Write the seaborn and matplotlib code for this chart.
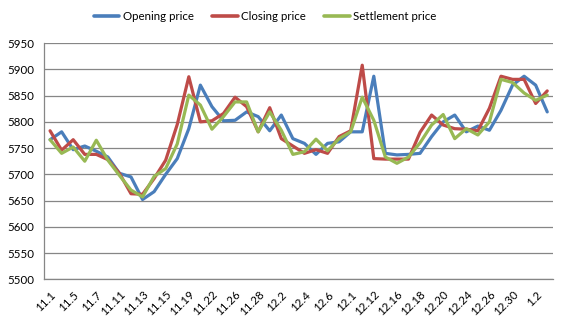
import matplotlib
matplotlib.use("Agg")
import matplotlib.pyplot as plt
import numpy as np
import pandas as pd
import seaborn as sns

# Trading days, November to early January
dates = ["11.1", "11.4", "11.5", "11.6", "11.7", "11.8", "11.11", "11.12", "11.13", "11.14",
         "11.15", "11.18", "11.19", "11.21", "11.22", "11.25", "11.26", "11.27", "11.28", "11.29",
         "12.2", "12.3", "12.4", "12.5", "12.6", "12.9", "12.1", "12.11", "12.12", "12.13",
         "12.16", "12.17", "12.18", "12.19", "12.20", "12.23", "12.24", "12.25", "12.26", "12.27",
         "12.30", "12.31", "1.2", "1.3"]

opening = [5766, 5781, 5747, 5754, 5744, 5733, 5702, 5695, 5652, 5667,
           5700, 5730, 5787, 5870, 5829, 5802, 5803, 5819, 5810, 5783,
           5813, 5768, 5759, 5738, 5759, 5762, 5781, 5781, 5887, 5740,
           5737, 5738, 5740, 5772, 5800, 5813, 5781, 5792, 5784, 5822,
           5870, 5887, 5870, 5819]

closing = [5783, 5746, 5766, 5738, 5738, 5728, 5702, 5663, 5662, 5692,
           5727, 5795, 5886, 5800, 5802, 5816, 5847, 5829, 5781, 5827,
           5768, 5754, 5740, 5747, 5740, 5772, 5783, 5908, 5730, 5729,
           5729, 5729, 5780, 5813, 5794, 5787, 5786, 5783, 5826, 5887,
           5881, 5881, 5835, 5859]

settlement = [5766, 5740, 5752, 5725, 5765, 5727, 5698, 5670, 5657, 5696,
              5711, 5758, 5851, 5832, 5786, 5810, 5838, 5838, 5781, 5819,
              5784, 5738, 5743, 5767, 5745, 5768, 5781, 5847, 5803, 5733,
              5721, 5733, 5760, 5794, 5814, 5768, 5787, 5775, 5800, 5881,
              5875, 5855, 5841, 5851]

series_names = ["Opening price", "Closing price", "Settlement price"]
colors = ["#4A7EBB", "#BE4B48", "#98B954"]
y_ticks = list(range(5500, 5951, 50))

n = len(dates)
idx = np.arange(n)
df = pd.DataFrame({
    "idx": np.tile(idx, 3),
    "price": opening + closing + settlement,
    "series": np.repeat(series_names, n),
})

sns.set_style("white")
plt.rcParams["font.family"] = ["Lato", "DejaVu Sans"]
plt.rcParams["text.color"] = "black"
plt.rcParams["xtick.labelcolor"] = "black"
plt.rcParams["ytick.labelcolor"] = "black"

fig = plt.figure(figsize=(5.62, 3.27), dpi=100)
ax = fig.add_axes([0.0788, 0.146, 0.9052, 0.722])

sns.lineplot(data=df, x="idx", y="price", hue="series", hue_order=series_names,
             palette=colors, linewidth=2.3, ax=ax, legend=True)

grid_col = "#868686"
ax.set_xlim(-0.5, n - 0.5)
ax.set_ylim(5500, 5950)
ax.set_yticks(y_ticks)
ax.set_yticklabels([str(v) for v in y_ticks], fontsize=8.3)
ax.yaxis.grid(True, color=grid_col, linewidth=0.9)
ax.set_axisbelow(True)

# Category labels on every second day, tick marks between categories
ax.set_xticks(idx[::2])
ax.set_xticklabels(dates[::2], rotation=45, ha="right", rotation_mode="anchor", fontsize=8.3)
ax.set_xticks(np.arange(n + 1) - 0.5, minor=True)
ax.tick_params(axis="x", which="major", length=0, pad=7)
ax.tick_params(axis="x", which="minor", length=4, color=grid_col, width=0.9, direction="out")
ax.tick_params(axis="y", length=4, color=grid_col, width=0.9, direction="out", pad=3)
ax.set_xlabel("")
ax.set_ylabel("")

for side in ["top", "right"]:
    ax.spines[side].set_visible(False)
for side in ["left", "bottom"]:
    ax.spines[side].set_color(grid_col)
    ax.spines[side].set_linewidth(0.9)

handles, labels = ax.get_legend_handles_labels()
for h in handles:
    h.set_linewidth(2.6)
ax.get_legend().remove()
fig.legend(handles, labels, loc="center", bbox_to_anchor=(0.472, 0.95), ncol=3,
           frameon=False, fontsize=8.3, handlelength=2.2, handletextpad=0.3,
           columnspacing=1.6)

fig.savefig("out.png", dpi=100)
